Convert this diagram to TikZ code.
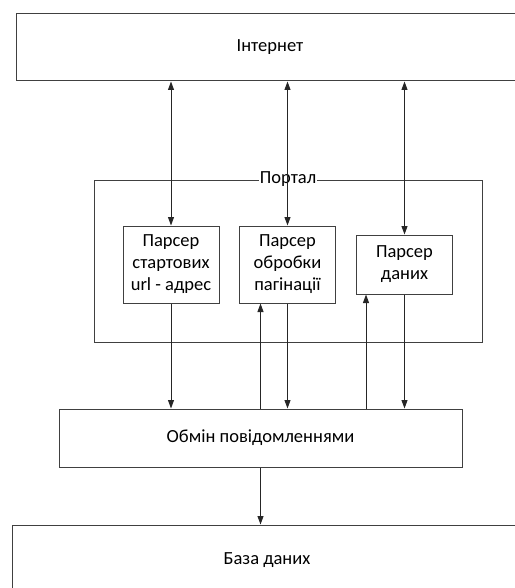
\documentclass[tikz,border=0pt]{standalone}
\usepackage{fontspec}
\setmainfont{Carlito}
\usetikzlibrary{arrows.meta, positioning}

\begin{document}
\begin{tikzpicture}[
   x=1pt, y=-1pt,
   font=\fontsize{18.5}{22}\selectfont,
   line width=1pt, draw=black!75,
   box/.style = {draw=black!75, rectangle, align=center, inner sep=0pt},
   parser/.style = {box, minimum width=96pt},
   link/.style = {-{Triangle[length=8.5pt, width=6pt]}, black!85},
   dlink/.style = {{Triangle[length=8.5pt, width=6pt]}-{Triangle[length=8.5pt, width=6pt]}, black!85}]
   \useasboundingbox (0,0) rectangle (514,588);
   \node[box, minimum width=508pt, minimum height=67pt] (inet) at (270,47.5) {Інтернет};
   \node[box, minimum width=388pt, minimum height=162pt] (portal) at (288,261) {};
   \node[fill=white, inner sep=1pt] (portaltitle) at (portal.north) {Портал};
   \node[parser, minimum height=77pt] (p1) at (171,264.5) {Парсер\\стартових\\url - адрес};
   \node[parser, minimum height=77pt] (p2) at (287.5,264.5) {Парсер\\обробки\\пагінації};
   \node[parser, minimum height=59pt] (p3) at (404.5,264.5) {Парсер\\даних};
   \node[box, minimum width=403pt, minimum height=58pt] (msg) at (260.5,438) {Обмін повідомленнями};
   \node[box, minimum width=510pt, minimum height=70pt] (db) at (267,560) {База даних};
   \coordinate (p3in) at ([xshift=10pt]p3.south west);

   % internet <-> parsers
   \draw[dlink] (inet.south -| p1.north) -- (p1.north);
   \draw[dlink] (inet.south -| p2.north) -- (p2.north);
   \draw[dlink] (inet.south -| p3.north) -- (p3.north);

   % parsers -> messages
   \draw[link] (p1.south) -- (msg.north -| p1.south);
   \draw[link] (p2.south) -- (msg.north -| p2.south);
   \draw[link] (p3.south) -- (msg.north -| p3.south);

   % messages -> parsers
   \draw[link] (msg.north) -- (p2.south -| msg.north);
   \draw[link] (msg.north -| p3in) -- (p3in);

   \draw[link] (msg.south) -- (db.north -| msg.south);
\end{tikzpicture}
\end{document}
